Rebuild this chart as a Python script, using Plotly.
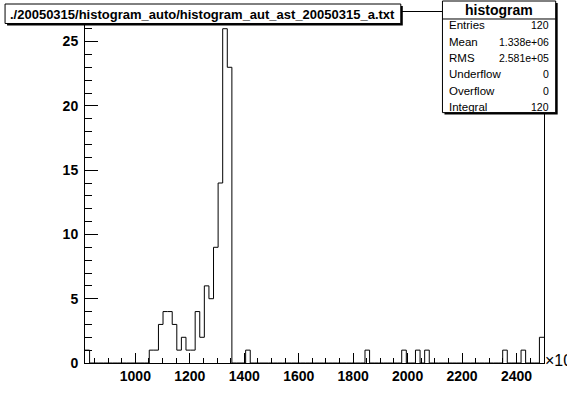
import plotly.graph_objects as go

# ---------------- data ----------------
x_min, x_max, n_bins = 815.0, 2501.0, 100          # axis in units of 10^3
counts = [
    1, 0, 0, 0, 0, 0, 0, 0, 0, 0,
    0, 0, 0, 0, 1, 1, 3, 4, 4, 3,
    1, 2, 1, 1, 4, 2, 6, 5, 9, 14,
    26, 23, 0, 0, 0, 1, 0, 0, 0, 0,
    0, 0, 0, 0, 0, 0, 0, 0, 0, 0,
    0, 0, 0, 0, 0, 0, 0, 0, 0, 0,
    0, 1, 0, 0, 0, 0, 0, 0, 0, 1,
    0, 0, 1, 0, 1, 0, 0, 0, 0, 0,
    0, 0, 0, 0, 0, 0, 0, 0, 0, 0,
    0, 1, 0, 0, 0, 1, 0, 0, 0, 2,
]
x_ticks = [1000, 1200, 1400, 1600, 1800, 2000, 2200, 2400]
y_ticks = [0, 5, 10, 15, 20, 25]
y_max = 27.3
title_text = "./20050315/histogram_auto/histogram_aut_ast_20050315_a.txt"
stats_title = "histogram"
stats_labels = ["Entries", "Mean", "RMS", "Underflow", "Overflow", "Integral"]
stats_values = ["120", "1.338e+06", "2.581e+05", "0", "0", "120"]
exp_text = "×10<sup>3</sup>"

# ---------------- figure ----------------
W, H = 567, 405
L, R, T, B = 85, 22.7, 12, 41.7
pw, ph = W - L - R, H - T - B


def px(x):
    return (x - L) / pw


def py(y):
    return (H - B - y) / ph


bw = (x_max - x_min) / n_bins
edges = [x_min + i * bw for i in range(n_bins + 1)]
ys = counts + [counts[-1]]

fig = go.Figure(go.Scatter(
    x=edges, y=ys, mode="lines",
    line=dict(color="black", width=1, shape="hv"),
    hoverinfo="skip", showlegend=False))

FONT = "Liberation Sans"

fig.update_xaxes(
    range=[x_min, x_max], tickvals=x_ticks, ticktext=[str(v) for v in x_ticks],
    ticks="inside", ticklen=10, tickwidth=1, tickcolor="black",
    showline=True, linecolor="black", linewidth=1, mirror=True,
    showgrid=False, zeroline=False,
    minor=dict(dtick=50, tick0=1000, ticks="inside", ticklen=5,
               tickcolor="black", tickwidth=1, showgrid=False),
    tickfont=dict(family=FONT, size=14, color="black", weight=700),
)
fig.update_yaxes(
    range=[0, y_max], tickvals=y_ticks, ticktext=[str(v) for v in y_ticks],
    ticks="inside", ticklen=13, tickwidth=1, tickcolor="black",
    showline=True, linecolor="black", linewidth=1, mirror=True,
    showgrid=False, zeroline=False,
    minor=dict(dtick=1, tick0=0, ticks="inside", ticklen=7,
               tickcolor="black", tickwidth=1, showgrid=False),
    tickfont=dict(family=FONT, size=14, color="black", weight=700),
    ticklabelstandoff=3,
)

shapes = []
annotations = []

# title box with shadow
tx0, ty0, tx1, ty1 = 5, 4, 401, 23.5
shapes.append(dict(type="rect", xref="paper", yref="paper", layer="above",
                   x0=px(tx0 + 2), x1=px(tx1 + 2), y0=py(ty0 + 2), y1=py(ty1 + 2),
                   fillcolor="black", line=dict(width=0)))
shapes.append(dict(type="rect", xref="paper", yref="paper", layer="above",
                   x0=px(tx0), x1=px(tx1), y0=py(ty0), y1=py(ty1),
                   fillcolor="white", line=dict(color="black", width=1)))
annotations.append(dict(xref="paper", yref="paper", x=px((tx0 + tx1) / 2), y=py((ty0 + ty1) / 2 + 0.5),
                        text=title_text, showarrow=False, xanchor="center", yanchor="middle",
                        font=dict(family=FONT, size=13, color="black", weight=700)))

# stats box with shadow
sx0, sy0, sx1, sy1 = 442.7, 1, 556, 112.7
shapes.append(dict(type="rect", xref="paper", yref="paper", layer="above",
                   x0=px(sx0 + 2), x1=px(sx1 + 2), y0=py(sy0 + 2), y1=py(sy1 + 2),
                   fillcolor="black", line=dict(width=0)))
shapes.append(dict(type="rect", xref="paper", yref="paper", layer="above",
                   x0=px(sx0), x1=px(sx1), y0=py(sy0), y1=py(sy1),
                   fillcolor="white", line=dict(color="black", width=1)))
shapes.append(dict(type="line", xref="paper", yref="paper", layer="above",
                   x0=px(sx0), x1=px(sx1), y0=py(19), y1=py(19),
                   line=dict(color="black", width=1)))
annotations.append(dict(xref="paper", yref="paper", x=px((sx0 + sx1) / 2), y=py(10),
                        text=stats_title, showarrow=False, xanchor="center", yanchor="middle",
                        font=dict(family=FONT, size=14, color="black", weight=700)))
row0, row_step = 25.5, 16.3
for k, (lab, val) in enumerate(zip(stats_labels, stats_values)):
    yy = row0 + k * row_step
    annotations.append(dict(xref="paper", yref="paper", x=px(447), y=py(yy),
                            text=lab, showarrow=False, xanchor="left", yanchor="middle",
                            font=dict(family=FONT, size=11.5, color="black")))
    annotations.append(dict(xref="paper", yref="paper", x=px(551), y=py(yy),
                            text=val, showarrow=False, xanchor="right", yanchor="middle",
                            font=dict(family=FONT, size=10.5, color="black")))

# axis exponent
annotations.append(dict(xref="paper", yref="paper", x=px(543), y=py(359),
                        text=exp_text, showarrow=False, xanchor="left", yanchor="middle",
                        font=dict(family=FONT, size=16, color="black")))

fig.update_layout(
    width=W, height=H, autosize=False,
    margin=dict(l=L, r=R, t=T, b=B, pad=0),
    paper_bgcolor="white", plot_bgcolor="white",
    shapes=shapes, annotations=annotations,
    showlegend=False,
)

fig.write_html("out.html",
               config={"displayModeBar": False, "staticPlot": True},
               post_script="document.body.style.margin='0';document.body.style.overflow='hidden';")
